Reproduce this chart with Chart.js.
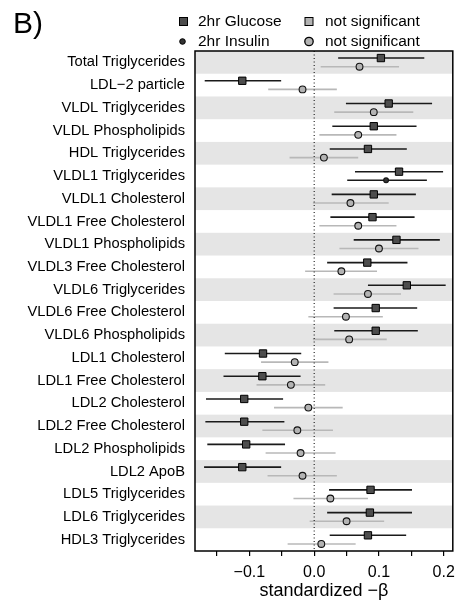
<!DOCTYPE html>
<html>
<head>
<meta charset="utf-8">
<script src="https://cdn.jsdelivr.net/npm/chart.js@4.4.0/dist/chart.umd.min.js"></script>
<style>
  html, body { margin: 0; padding: 0; background: #fff; }
  #wrap { position: relative; width: 459px; height: 606px; }
</style>
</head>
<body>
<div id="wrap"><canvas id="chart"></canvas></div>
<script>
// metabolite rows, top to bottom
const metabolites = [
  'Total Triglycerides', 'LDL\u22122 particle', 'VLDL Triglycerides', 'VLDL Phospholipids',
  'HDL Triglycerides', 'VLDL1 Triglycerides', 'VLDL1 Cholesterol', 'VLDL1 Free Cholesterol',
  'VLDL1 Phospholipids', 'VLDL3 Free Cholesterol', 'VLDL6 Triglycerides', 'VLDL6 Free Cholesterol',
  'VLDL6 Phospholipids', 'LDL1 Cholesterol', 'LDL1 Free Cholesterol', 'LDL2 Cholesterol',
  'LDL2 Free Cholesterol', 'LDL2 Phospholipids', 'LDL2 ApoB', 'LDL5 Triglycerides',
  'LDL6 Triglycerides', 'HDL3 Triglycerides'
];

// 2hr glucose: estimate and 95% CI
const glucoseBeta = [0.103, -0.111, 0.115, 0.092, 0.083, 0.131, 0.092, 0.090, 0.127, 0.082, 0.143,
  0.095, 0.095, -0.079, -0.080, -0.108, -0.108, -0.105, -0.111, 0.087, 0.086, 0.083];
const glucoseLo = [0.037, -0.169, 0.049, 0.028, 0.024, 0.063, 0.027, 0.025, 0.061, 0.020, 0.083,
  0.030, 0.031, -0.138, -0.140, -0.167, -0.168, -0.165, -0.170, 0.023, 0.020, 0.024];
const glucoseHi = [0.170, -0.051, 0.182, 0.158, 0.143, 0.199, 0.157, 0.155, 0.194, 0.144, 0.203,
  0.159, 0.160, -0.020, -0.021, -0.048, -0.046, -0.045, -0.051, 0.151, 0.151, 0.142];
const glucoseSig = metabolites.map(() => true);

// 2hr insulin: estimate and 95% CI
const insulinBeta = [0.070, -0.018, 0.092, 0.068, 0.015, 0.111, 0.056, 0.068, 0.100, 0.042, 0.083,
  0.049, 0.054, -0.030, -0.036, -0.009, -0.026, -0.021, -0.018, 0.025, 0.050, 0.011];
const insulinLo = [0.010, -0.071, 0.031, 0.008, -0.038, 0.051, -0.002, 0.008, 0.039, -0.014, 0.030,
  -0.009, -0.002, -0.082, -0.089, -0.062, -0.080, -0.075, -0.072, -0.032, -0.007, -0.041];
const insulinHi = [0.131, 0.035, 0.153, 0.127, 0.068, 0.174, 0.115, 0.127, 0.161, 0.097, 0.134,
  0.106, 0.112, 0.022, 0.017, 0.044, 0.029, 0.033, 0.035, 0.083, 0.108, 0.064];
const insulinSig = [false, false, false, false, false, true, false, false, false, false, false,
  false, false, false, false, false, false, false, false, false, false, false];

const xTicks = [-0.15, -0.1, -0.05, 0, 0.05, 0.1, 0.15, 0.2];
const xTickLabels = ['', '\u22120.1', '', '0.0', '', '0.1', '', '0.2'];

const FONT = "'Liberation Sans', Arial, sans-serif";
const GLU_OFF = -0.19;
const INS_OFF = 0.19;

const glucosePoints = glucoseBeta.map((b, i) => ({ x: b, y: i + GLU_OFF }));
const insulinPoints = insulinBeta.map((b, i) => ({ x: b, y: i + INS_OFF }));

const forestPlugin = {
  id: 'forest',
  beforeDatasetsDraw(chart) {
    const { ctx, chartArea: a, scales: { x, y } } = chart;
    ctx.save();
    // alternating row stripes
    ctx.fillStyle = '#e5e5e5';
    for (let i = 0; i < metabolites.length; i += 2) {
      const y0 = y.getPixelForValue(i - 0.5);
      const y1 = y.getPixelForValue(i + 0.5);
      ctx.fillRect(a.left, Math.min(y0, y1), a.right - a.left, Math.abs(y1 - y0));
    }
    // confidence intervals
    ctx.lineWidth = 1.6;
    metabolites.forEach((m, i) => {
      const gy = y.getPixelForValue(i + GLU_OFF);
      ctx.strokeStyle = glucoseSig[i] ? '#1a1a1a' : '#b5b5b5';
      ctx.beginPath();
      ctx.moveTo(x.getPixelForValue(glucoseLo[i]), gy);
      ctx.lineTo(x.getPixelForValue(glucoseHi[i]), gy);
      ctx.stroke();
      const iy = y.getPixelForValue(i + INS_OFF);
      ctx.strokeStyle = insulinSig[i] ? '#1a1a1a' : '#b8b8b8';
      ctx.beginPath();
      ctx.moveTo(x.getPixelForValue(insulinLo[i]), iy);
      ctx.lineTo(x.getPixelForValue(insulinHi[i]), iy);
      ctx.stroke();
    });
    // dotted zero line
    const zx = x.getPixelForValue(0);
    ctx.strokeStyle = '#000';
    ctx.lineWidth = 1;
    ctx.setLineDash([1, 2.5]);
    ctx.beginPath();
    ctx.moveTo(zx, a.top);
    ctx.lineTo(zx, a.bottom);
    ctx.stroke();
    ctx.restore();
  },
  afterDatasetsDraw(chart) {
    const { ctx, chartArea: a } = chart;
    ctx.save();
    ctx.strokeStyle = '#000';
    ctx.lineWidth = 1.5;
    ctx.strokeRect(a.left, a.top, a.right - a.left, a.bottom - a.top);
    ctx.restore();
  },
  afterDraw(chart) {
    const ctx = chart.ctx;
    ctx.save();
    ctx.fillStyle = '#000';
    ctx.font = '30px ' + FONT;
    ctx.textBaseline = 'alphabetic';
    ctx.fillText('B)', 13, 33);

    // legend
    ctx.font = '15.5px ' + FONT;
    ctx.textBaseline = 'middle';
    ctx.lineWidth = 1;
    ctx.strokeStyle = '#000';
    // row 1: squares
    ctx.fillStyle = '#4d4d4d';
    ctx.fillRect(179.5, 17.5, 8, 8);
    ctx.strokeRect(179.5, 17.5, 8, 8);
    ctx.fillStyle = '#b3b3b3';
    ctx.fillRect(305, 17.5, 8, 8);
    ctx.strokeRect(305, 17.5, 8, 8);
    // row 2: circles
    ctx.fillStyle = '#333';
    ctx.beginPath();
    ctx.arc(182.5, 41.5, 2.8, 0, Math.PI * 2);
    ctx.fill();
    ctx.stroke();
    ctx.fillStyle = '#b3b3b3';
    ctx.lineWidth = 1.3;
    ctx.beginPath();
    ctx.arc(309, 41.5, 4.2, 0, Math.PI * 2);
    ctx.fill();
    ctx.stroke();

    ctx.fillStyle = '#000';
    ctx.fillText('2hr Glucose', 198, 22);
    ctx.fillText('not significant', 325, 22);
    ctx.fillText('2hr Insulin', 198, 42);
    ctx.fillText('not significant', 325, 42);
    ctx.restore();
  }
};

new Chart(document.getElementById('chart'), {
  type: 'scatter',
  data: {
    datasets: [
      {
        label: '2hr Glucose',
        data: glucosePoints,
        pointStyle: 'rect',
        pointRadius: 5.2,
        backgroundColor: glucoseSig.map(s => s ? '#4d4d4d' : '#b3b3b3'),
        borderColor: '#000',
        borderWidth: 1
      },
      {
        label: '2hr Insulin',
        data: insulinPoints,
        pointStyle: 'circle',
        pointRadius: insulinSig.map(s => s ? 2.4 : 3.4),
        backgroundColor: insulinSig.map(s => s ? '#333' : '#b3b3b3'),
        borderColor: '#111',
        borderWidth: 1.1
      }
    ]
  },
  options: {
    responsive: true,
    maintainAspectRatio: false,
    animation: false,
    layout: { padding: { top: 51, right: 6, left: 0, bottom: 4 } },
    plugins: {
      legend: { display: false },
      tooltip: { enabled: false }
    },
    scales: {
      x: {
        type: 'linear',
        min: -0.184,
        max: 0.214,
        afterBuildTicks: (s) => { s.ticks = xTicks.map(v => ({ value: v })); },
        afterFit: (s) => { s.height = 51; s.paddingLeft = 0; s.paddingRight = 0; },
        ticks: {
          autoSkip: false,
          maxRotation: 0,
          padding: 7,
          color: '#000',
          font: { family: FONT, size: 16 },
          callback: (v, i) => xTickLabels[i]
        },
        grid: { drawOnChartArea: false, drawTicks: true, tickLength: 5, color: '#000', lineWidth: 1.2 },
        border: { display: false },
        title: {
          display: true,
          text: 'standardized \u2212\u03b2',
          color: '#000',
          font: { family: FONT, size: 18 },
          padding: { top: 0, bottom: 0 }
        }
      },
      y: {
        type: 'linear',
        min: -0.5,
        max: 21.5,
        reverse: true,
        afterBuildTicks: (s) => { s.ticks = metabolites.map((m, i) => ({ value: i })); },
        afterFit: (s) => { s.width = 195; s.paddingTop = 0; s.paddingBottom = 0; },
        ticks: {
          autoSkip: false,
          padding: 10,
          color: '#000',
          font: { family: FONT, size: 14.7 },
          callback: (v) => metabolites[Math.round(v)]
        },
        grid: { display: false, drawTicks: false },
        border: { display: false }
      }
    }
  },
  plugins: [forestPlugin]
});
</script>
</body>
</html>
